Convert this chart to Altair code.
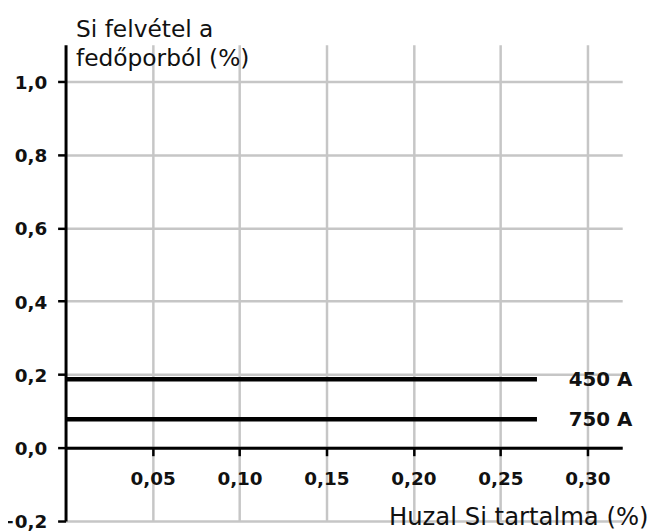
import altair as alt
import pandas as pd

# data
series = ["450 A", "750 A"]
si_pickup = [0.187, 0.078]          # Si felvétel a fedőporból (%)
wire_si_start = [0.0, 0.0]          # Huzal Si tartalma (%)
wire_si_end = [0.271, 0.271]
x_ticks = [0.05, 0.10, 0.15, 0.20, 0.25, 0.30]
y_ticks = [-0.2, 0.0, 0.2, 0.4, 0.6, 0.8, 1.0]
x_domain = [0.0, 0.32]
y_domain = [-0.2, 1.1]

df = pd.DataFrame({"series": series, "y": si_pickup,
                   "x0": wire_si_start, "x1": wire_si_end})

W, H = 561, 480
x_offset = -H * (0 - y_domain[0]) / (y_domain[1] - y_domain[0])

xscale = alt.Scale(domain=x_domain, nice=False, zero=False)
yscale = alt.Scale(domain=y_domain, nice=False, zero=False)

grid_col = "#c6c6c6"

x_axis = alt.Axis(
    values=x_ticks,
    labelExpr="replace(format(datum.value, '.2f'), '.', ',')",
    offset=x_offset,
    grid=True, gridColor=grid_col, gridWidth=2.5,
    domainColor="black", domainWidth=3,
    tickColor="black", tickWidth=2.5, tickSize=8,
    labelFont="DejaVu Sans", labelFontWeight="bold", labelFontSize=18.5,
    labelColor="#111", labelPadding=14,
    title="Huzal Si tartalma (%)",
    titleFont="DejaVu Sans", titleFontSize=24.5, titleFontWeight="normal",
    titleColor="#111", titleAlign="right", titleBaseline="alphabetic",
    titleX=587, titleY=77,
)
y_axis = alt.Axis(
    values=y_ticks,
    labelExpr="replace(format(datum.value, '.1f'), '.', ',')",
    grid=True, gridColor=grid_col, gridWidth=2.5,
    domainColor="black", domainWidth=3,
    tickColor="black", tickWidth=2.5, tickSize=8,
    labelFont="DejaVu Sans", labelFontWeight="bold", labelFontSize=18.5,
    labelColor="#111", labelPadding=11, labelOffset=1,
    title=["Si felvétel a", "fedőporból (%)"],
    titleFont="DejaVu Sans", titleFontSize=23.5, titleFontWeight="normal",
    titleColor="#111", titleAngle=0, titleAlign="left",
    titleBaseline="alphabetic", titleLineHeight=29,
    titleX=10, titleY=-8,
)

base = alt.Chart(df)
lines = base.mark_rule(color="black", strokeWidth=4.5).encode(
    x=alt.X("x0:Q", scale=xscale, axis=x_axis),
    x2="x1:Q",
    y=alt.Y("y:Q", scale=yscale, axis=y_axis),
)
labels = base.mark_text(
    align="left", baseline="middle", dx=32, dy=1,
    font="DejaVu Sans", fontWeight="bold", fontSize=20, color="#111",
).encode(
    x=alt.X("x1:Q", scale=xscale),
    y=alt.Y("y:Q", scale=yscale),
    text="series:N",
)

chart = alt.layer(lines, labels).properties(
    width=W, height=H,
    autosize=alt.AutoSizeParams(type="none"),
    padding={"left": 58, "top": 35, "right": 26, "bottom": 9},
).configure_view(stroke=None)

chart.save("out.html", embed_options={"renderer": "svg", "actions": False})
